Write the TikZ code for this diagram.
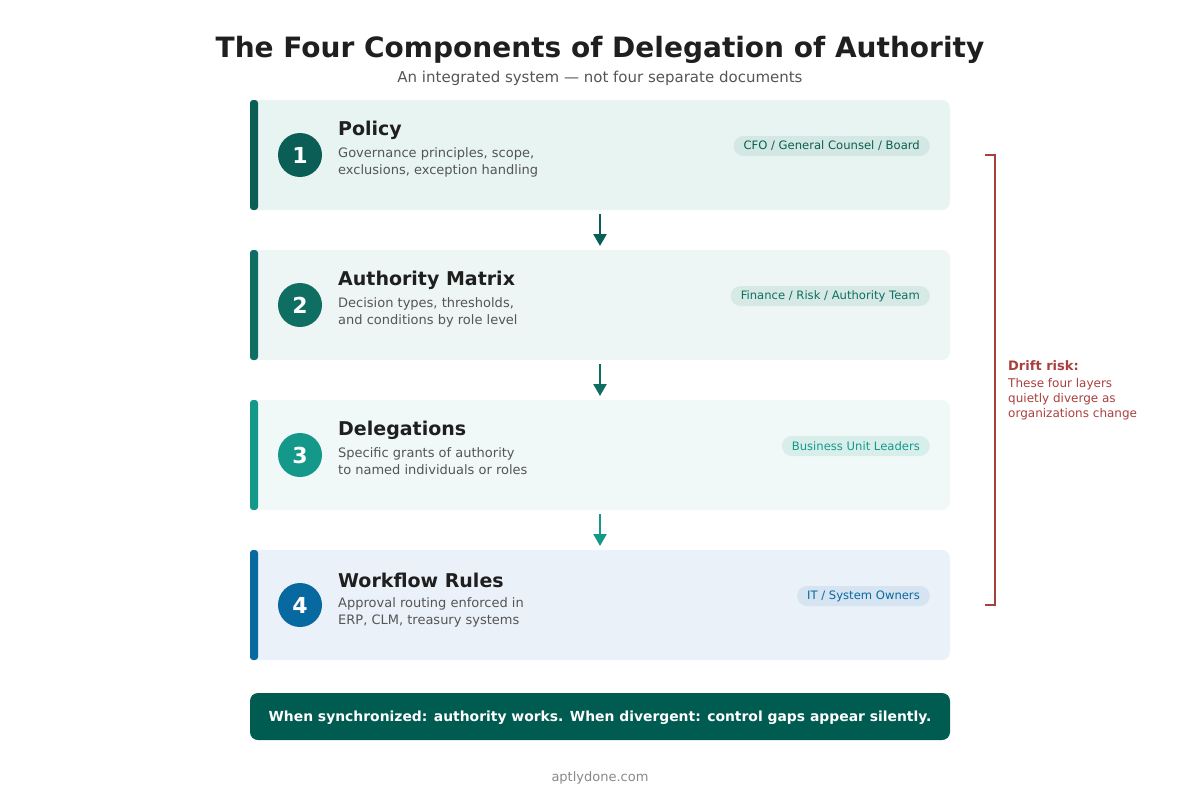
\documentclass[tikz,border=0pt]{standalone}
\usepackage{fontspec}
\setmainfont{DejaVu Sans}
\usetikzlibrary{arrows.meta}
\definecolor{cA}{HTML}{0B5E55}
\definecolor{cB}{HTML}{0F6E62}
\definecolor{cC}{HTML}{14988A}
\definecolor{cD}{HTML}{0868A0}
\definecolor{bgA}{HTML}{E8F4F1}
\definecolor{bgB}{HTML}{EDF6F4}
\definecolor{bgC}{HTML}{F0F9F8}
\definecolor{bgD}{HTML}{EAF1F8}
\definecolor{tagA}{HTML}{D3E7E3}
\definecolor{tagB}{HTML}{D6E9E5}
\definecolor{tagC}{HTML}{D8EEEB}
\definecolor{tagD}{HTML}{D5E4F0}
\definecolor{ink}{HTML}{1F1F1F}
\definecolor{sub}{HTML}{555555}
\definecolor{drift}{HTML}{A8403F}
\definecolor{banner}{HTML}{005B51}
\definecolor{foot}{HTML}{888888}
\tikzset{
  numc/.style={circle, minimum size=44pt, inner sep=0pt, text=white, font=\fontsize{22}{26}\selectfont\bfseries},
  ctitle/.style={anchor=west, inner sep=0pt, text=ink, font=\fontsize{19}{22}\selectfont\bfseries},
  cdesc/.style={anchor=north west, inner sep=0pt, text=sub, align=left, font=\fontsize{13}{17}\selectfont},
  tag/.style={rounded corners=10pt, minimum height=20pt, inner xsep=10pt, inner ysep=0pt, anchor=east, font=\fontsize{11.6}{14}\selectfont},
  flow/.style={line width=2.4pt, -{Triangle[length=12pt,width=13pt]}},
}
\begin{document}
\begin{tikzpicture}[x=1pt,y=-1pt]
\useasboundingbox (0,0) rectangle (1200,800);
% title
\node[inner sep=0pt, text=ink, font=\fontsize{28}{32}\selectfont\bfseries] (title) at (600,50) {The Four Components of Delegation of Authority};
\node[inner sep=0pt, text=sub, font=\fontsize{15}{18}\selectfont] (subtitle) at (600,78) {An integrated system — not four separate documents};

% cards
\foreach \i/\yt/\bg/\cc in {1/100/bgA/cA, 2/250/bgB/cB, 3/400/bgC/cC, 4/550/bgD/cD}{
  \fill[\bg, rounded corners=8pt] (250,\yt) rectangle (950,\yt+110);
  \fill[\cc, rounded corners=3pt] (250,\yt) rectangle (258,\yt+110);
}

% numbers
\node[numc, fill=cA] (n1) at (300,155) {1};
\node[numc, fill=cB] (n2) at (300,305) {2};
\node[numc, fill=cC] (n3) at (300,455) {3};
\node[numc, fill=cD] (n4) at (300,605) {4};

% titles and descriptions
\node[ctitle] (t1) at (338,130) {Policy};
\node[cdesc] (d1) at (338,147) {Governance principles, scope,\\exclusions, exception handling};
\node[ctitle] (t2) at (338,280) {Authority Matrix};
\node[cdesc] (d2) at (338,297) {Decision types, thresholds,\\and conditions by role level};
\node[ctitle] (t3) at (338,430) {Delegations};
\node[cdesc] (d3) at (338,447) {Specific grants of authority\\to named individuals or roles};
\node[ctitle] (t4) at (338,580) {Workflow Rules};
\node[cdesc] (d4) at (338,597) {Approval routing enforced in\\ERP, CLM, treasury systems};

% tags
\node[tag, fill=tagA, text=cA] (g1) at (930,146) {CFO / General Counsel / Board};
\node[tag, fill=tagB, text=cB] (g2) at (930,296) {Finance / Risk / Authority Team};
\node[tag, fill=tagC, text=cC] (g3) at (930,446) {Business Unit Leaders};
\node[tag, fill=tagD, text=cD] (g4) at (930,596) {IT / System Owners};

% arrows between cards
\coordinate (a1s) at (600,214); \coordinate (a1e) at (600,246);
\coordinate (a2s) at (600,364); \coordinate (a2e) at (600,396);
\coordinate (a3s) at (600,514); \coordinate (a3e) at (600,546);
\draw[flow, cA] (a1s) -- (a1e);
\draw[flow, cB] (a2s) -- (a2e);
\draw[flow, cC] (a3s) -- (a3e);

% drift bracket
\coordinate (b1) at (985,155); \coordinate (b2) at (995,155);
\coordinate (b3) at (995,605); \coordinate (b4) at (985,605);
\draw[drift, line width=1.6pt] (b1) -- (b2) -- (b3) -- (b4);
\node[anchor=west, inner sep=0pt, text=drift, font=\fontsize{13}{15}\selectfont\bfseries] (dr) at (1008,366) {Drift risk:};
\node[anchor=north west, inner sep=0pt, text=drift, align=left, font=\fontsize{12}{15}\selectfont] (drt) at (1008,378) {These four layers\\quietly diverge as\\organizations change};

% banner
\fill[banner, rounded corners=8pt] (250,693) rectangle (950,740);
\node[inner sep=0pt, text=white, font=\fontsize{13.9}{16}\selectfont\bfseries] (ban) at (600,718) {When synchronized: authority works. When divergent: control gaps appear silently.};

% footer
\node[inner sep=0pt, text=foot, font=\fontsize{13}{15}\selectfont] (ft) at (600,778) {aptlydone.com};
\end{tikzpicture}
\end{document}
